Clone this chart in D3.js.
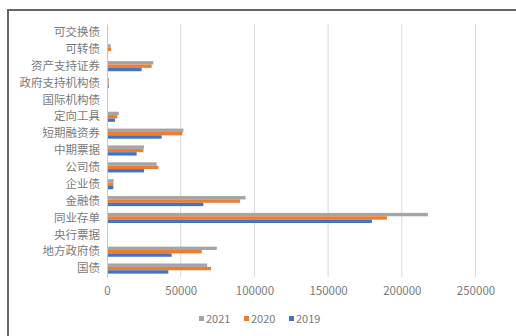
<!DOCTYPE html>
<html>
<head>
<meta charset="utf-8">
<script src="https://cdn.jsdelivr.net/npm/d3@7"></script>
<style>
  html, body { margin: 0; padding: 0; background: #fff; }
  svg { display: block; }
  text { font-family: "Noto Sans CJK SC", "Noto Sans", sans-serif; }
</style>
</head>
<body>
<svg id="chart" width="516" height="336"></svg>
<script>
// Categories listed bottom to top (as on the chart)
const categories = ["国债", "地方政府债", "央行票据", "同业存单", "金融债", "企业债", "公司债", "中期票据", "短期融资券", "定向工具", "国际机构债", "政府支持机构债", "资产支持证券", "可转债", "可交换债"];
const values2021 = [68000, 74500, 300, 217700, 94000, 4500, 33700, 25100, 51800, 8000, 300, 1300, 31400, 2500, 500];
const values2020 = [70600, 64300, 200, 189900, 90300, 4300, 34800, 24700, 51100, 7000, 250, 1200, 30300, 2800, 600];
const values2019 = [41600, 43900, 300, 179700, 65400, 4300, 25100, 20100, 37100, 5400, 200, 1200, 23500, 800, 500];
const seriesNames = ["2021", "2020", "2019"];
const seriesColors = ["#A5A5A5", "#ED7D31", "#4472C4"];
const xTicks = [0, 50000, 100000, 150000, 200000, 250000];

(function () {
const series = [values2021, values2020, values2019];
const svg = d3.select("#chart");
const textColor = "#7a7a7a";

// outer frame
svg.append("rect").attr("x", 8).attr("y", 10).attr("width", 530).attr("height", 350)
  .attr("fill", "#fff").attr("stroke", "#666").attr("stroke-width", 2);

const pLeft = 107, pRight = 475.5, pTop = 24, pBottom = 277;
const x = d3.scaleLinear().domain([0, 250000]).range([pLeft, pRight]);
const y = d3.scaleBand().domain(categories.slice().reverse()).range([pTop, pBottom])
  .paddingInner(0.4).paddingOuter(0.2);
const ys = d3.scaleBand().domain(seriesNames).range([0, y.bandwidth()]);

// gridlines
svg.append("g").selectAll("line").data(xTicks.slice(1)).join("line")
  .attr("x1", d => x(d)).attr("x2", d => x(d))
  .attr("y1", pTop).attr("y2", pBottom)
  .attr("stroke", "#d9d9d9").attr("stroke-width", 1);

// bars
categories.forEach((c, i) => {
  const g = svg.append("g").attr("transform", `translate(0,${y(c)})`);
  seriesNames.forEach((s, k) => {
    g.append("rect")
      .attr("x", x(0))
      .attr("y", ys(s))
      .attr("width", Math.max(0.6, x(series[k][i]) - x(0)))
      .attr("height", ys.bandwidth())
      .attr("fill", seriesColors[k]);
  });
});

// category axis
const yAxis = d3.axisLeft(y).tickSize(0).tickPadding(7);
const ya = svg.append("g").attr("transform", `translate(${pLeft},0)`).call(yAxis);
ya.select(".domain").attr("stroke", "#c8c8c8");
ya.selectAll("text").attr("fill", textColor).style("font-size", "11.5px")
  .style("font-family", '"Noto Sans CJK SC", sans-serif');

// value axis
const xAxis = d3.axisBottom(x).tickValues(xTicks).tickSize(0).tickPadding(10).tickFormat(d3.format("d"));
const xa = svg.append("g").attr("transform", `translate(0,${pBottom})`).call(xAxis);
xa.select(".domain").remove();
xa.selectAll("text").attr("fill", textColor).style("font-size", "11.5px")
  .style("font-family", '"Noto Sans CJK SC", sans-serif');

// legend
const legendX = [199, 244, 289];
const lg = svg.append("g");
seriesNames.forEach((s, k) => {
  lg.append("rect").attr("x", legendX[k]).attr("y", 316).attr("width", 5).attr("height", 5)
    .attr("fill", seriesColors[k]);
  lg.append("text").attr("x", legendX[k] + 7).attr("y", 322.5)
    .attr("fill", textColor).style("font-size", "11px").text(s);
});
})();
</script>
</body>
</html>
